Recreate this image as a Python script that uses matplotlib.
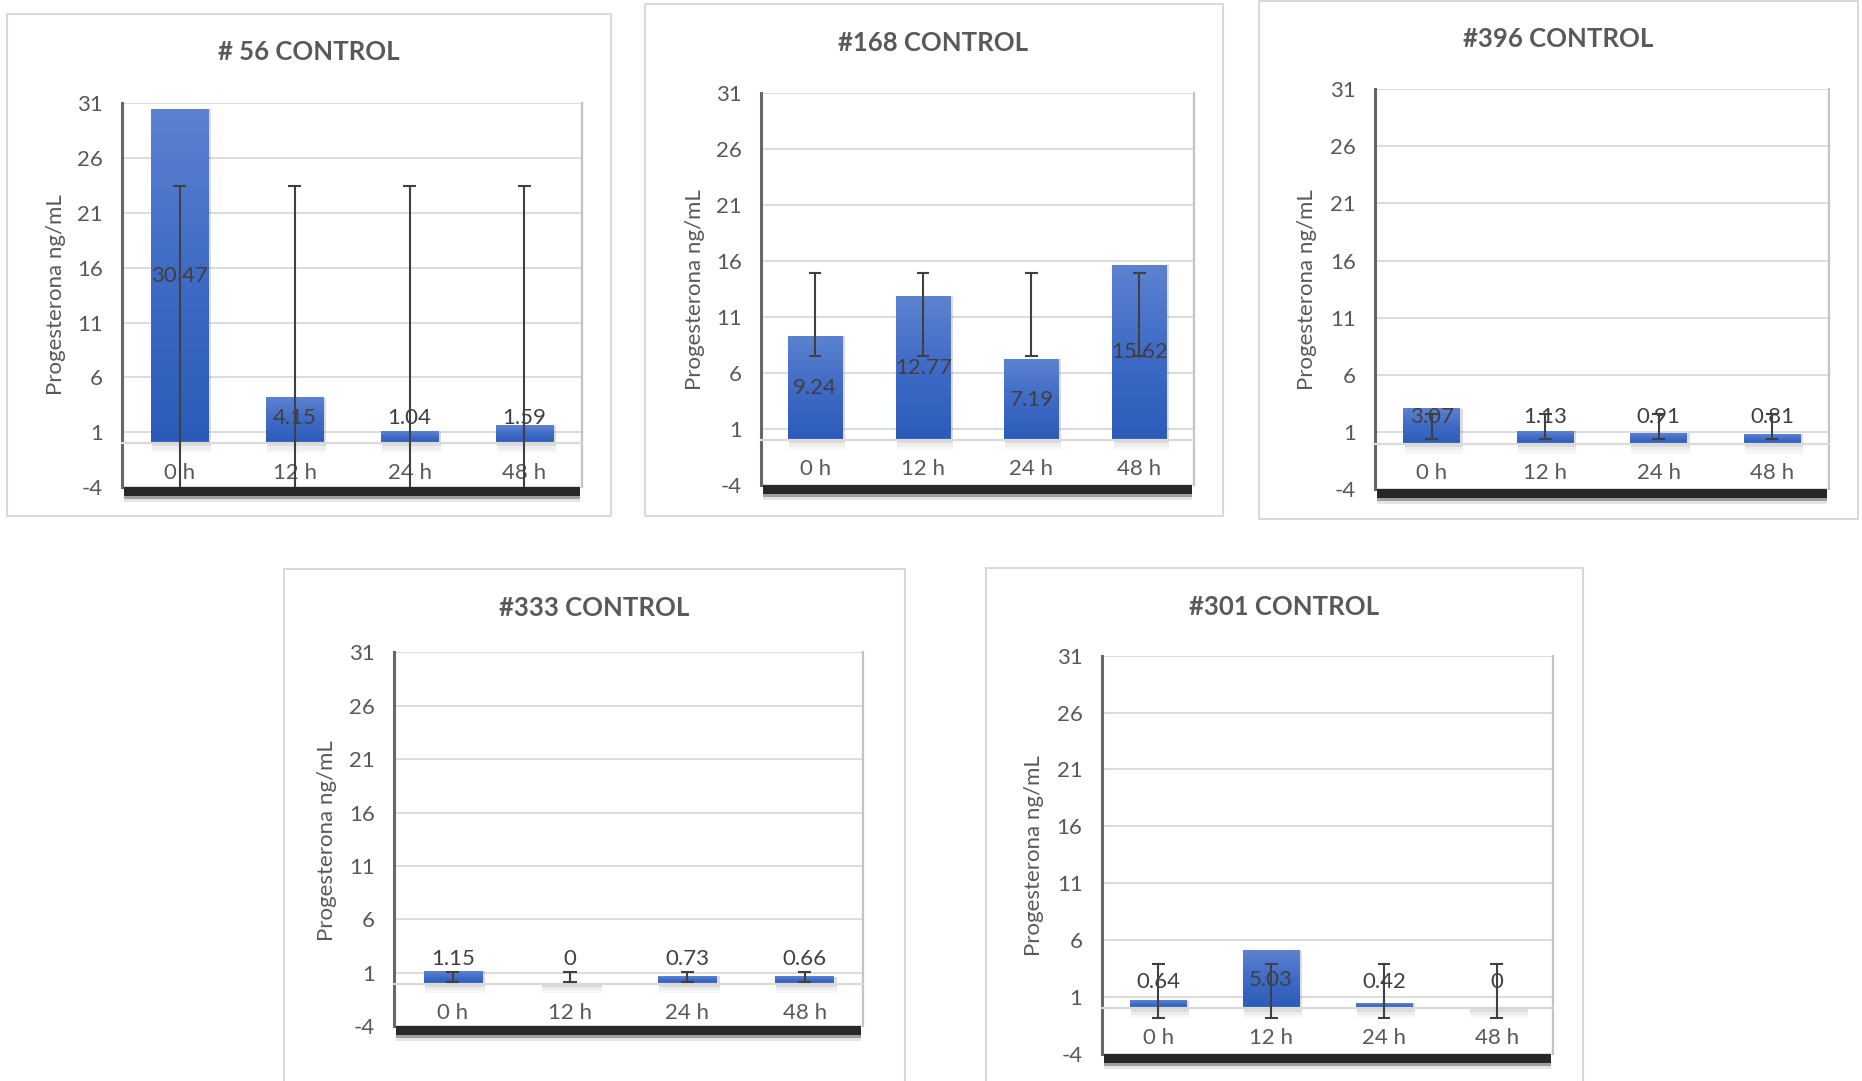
import numpy as np
import matplotlib
matplotlib.use('Agg')
import matplotlib.pyplot as plt
from matplotlib.patches import Rectangle
from matplotlib.colors import LinearSegmentedColormap

plt.rcParams['font.family'] = ['Lato', 'DejaVu Sans']
plt.rcParams['axes.unicode_minus'] = False

hours = ['0 h', '12 h', '24 h', '48 h']
titles = ['# 56 CONTROL', '#168 CONTROL', '#396 CONTROL', '#333 CONTROL', '#301 CONTROL']
cow56 = [30.47, 4.15, 1.04, 1.59]
cow168 = [9.24, 12.77, 7.19, 15.62]
cow396 = [3.07, 1.13, 0.91, 0.81]
cow333 = [1.15, 0, 0.73, 0.66]
cow301 = [0.64, 5.03, 0.42, 0]
yticks = [-4, 1, 6, 11, 16, 21, 26, 31]
ylabel = 'Progesterona ng/mL'

# layout (figure fractions)
axes_pos = [[0.0657, 0.5495, 0.2468, 0.3549],
            [0.4088, 0.5516, 0.2322, 0.3627],
            [0.7385, 0.5473, 0.2436, 0.3703],
            [0.2117, 0.0505, 0.2519, 0.3462],
            [0.5918, 0.0253, 0.2424, 0.3681]]
frame_pos = [[0.0038, 0.523, 0.3246, 0.4638],
             [0.3463, 0.523, 0.3106, 0.4737],
             [0.676, 0.5198, 0.322, 0.4795],
             [0.1524, -0.01, 0.3336, 0.4836],
             [0.5293, -0.01, 0.3208, 0.4847]]
title_pos = [(0.1658, 0.9516), (0.5013, 0.9604), (0.8367, 0.9637),
             (0.3189, 0.4374), (0.6894, 0.4385)]
ylab_pos = [(0.030, 0.7275), (0.373, 0.7319), (0.702, 0.7319),
            (0.1754, 0.222), (0.5555, 0.2088)]

W, H = 1862, 1081
fig = plt.figure(figsize=(W / 100, H / 100), dpi=100)
px, py = 1 / W, 1 / H

blue = LinearSegmentedColormap.from_list('bar', ['#2b5bb9', '#3f6bc6', '#5d82d0'])
grad = np.linspace(0, 1, 256).reshape(-1, 1)
gray = '#595959'
YMIN, YMAX = -4, 31


def panel(i, vals):
    fx, fy, fw, fh = frame_pos[i]
    fig.add_artist(Rectangle((fx, fy), fw, fh, transform=fig.transFigure,
                             fill=False, ec='#d9d9d9', lw=1.5))
    x0, y0, w, h = axes_pos[i]
    # shadow of the plot area
    for hh, a in [(15, 0.10), (12, 0.3), (9, 0.75)]:
        fig.add_artist(Rectangle((x0 + 2 * px, y0 - hh * py), w - 4 * px, hh * py,
                                 transform=fig.transFigure, color='black', alpha=a,
                                 lw=0, zorder=-1))
    ax = fig.add_axes(axes_pos[i])
    ax.set_facecolor('white')
    x = np.arange(len(vals))

    # bar shadows
    for xi, v in zip(x, vals):
        for off, a in [(0.9, 0.03), (0.6, 0.04), (0.3, 0.07)]:
            ax.add_patch(Rectangle((xi - 0.25 + 0.01, -off), 0.5 + 0.015, v + off,
                                   color='black', alpha=a, lw=0, zorder=1.5))
    # gradient bars
    for xi, v in zip(x, vals):
        if v > 0:
            ax.imshow(grad, extent=(xi - 0.25, xi + 0.25, 0, v), origin='lower',
                      cmap=blue, aspect='auto', interpolation='bilinear', zorder=2)

    # data labels
    for xi, v in zip(x, vals):
        ax.text(xi, max(v / 2, 2.3), f'{v:g}', ha='center', va='center',
                fontsize=16, color='#404040', zorder=3)

    # standard deviation error bars around the series mean (cut at the plot edge)
    m = np.mean(vals)
    sd = np.std(vals, ddof=1)
    lo, hi = m - sd, m + sd
    ax.vlines(x, max(lo, YMIN), min(hi, YMAX), color='#404040', lw=1.5, zorder=4)
    cw = 0.057
    for end in (lo, hi):
        if YMIN < end < YMAX:
            ax.hlines([end] * len(x), x - cw, x + cw, color='#404040', lw=1.5, zorder=4)

    ax.set_xlim(-0.5, 3.5)
    ax.set_ylim(YMIN, YMAX)
    ax.set_yticks(yticks)
    ax.set_xticks(x, hours)
    ax.grid(axis='y', color='#d9d9d9', lw=1.3)
    ax.set_axisbelow(True)
    ax.tick_params(axis='y', length=0, pad=14, labelsize=16, labelcolor=gray)
    ax.tick_params(axis='x', length=0, pad=14, labelsize=16, labelcolor=gray)
    ax.spines['bottom'].set_position(('data', 0))
    ax.spines['bottom'].set_color('#d9d9d9')
    ax.spines['bottom'].set_linewidth(1.6)
    ax.spines['top'].set_visible(False)
    ax.spines['left'].set_color('#666666')
    ax.spines['left'].set_linewidth(2.2)
    ax.spines['right'].set_color('#c4c4c4')
    ax.spines['right'].set_linewidth(1.6)

    tx, ty = title_pos[i]
    fig.text(tx, ty, titles[i], ha='center', va='center', fontsize=18.5,
             fontweight='bold', color=gray)
    lx, ly = ylab_pos[i]
    fig.text(lx, ly, ylabel, rotation=90, ha='center', va='center',
             fontsize=16, color=gray)


for i, vals in enumerate([cow56, cow168, cow396, cow333, cow301]):
    panel(i, vals)

fig.savefig('out.png', dpi=100, facecolor='white')
